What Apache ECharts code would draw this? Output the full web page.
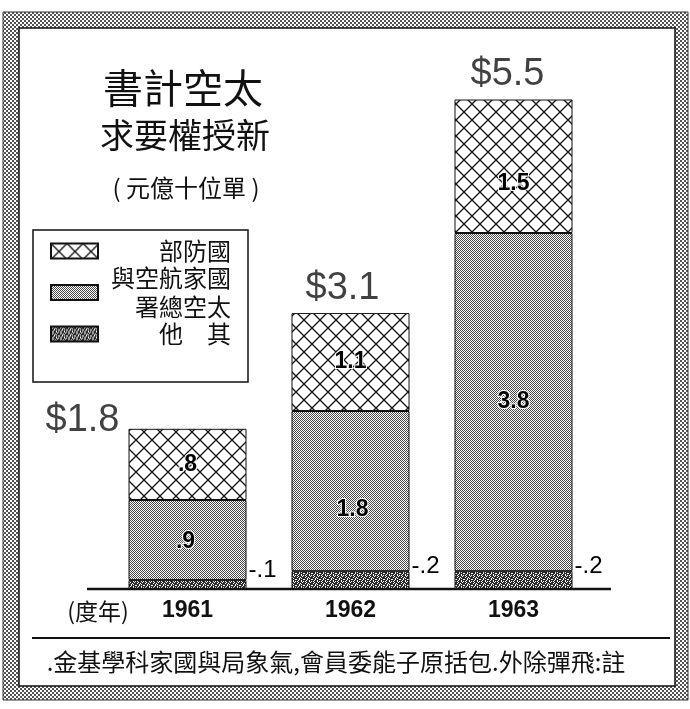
<!DOCTYPE html>
<html>
<head>
<meta charset="utf-8">
<script src="https://cdn.jsdelivr.net/npm/echarts@6/dist/echarts.min.js"></script>
<style>
  html, body { margin: 0; padding: 0; background: #fff; }
  #main { width: 690px; height: 709px; }
</style>
</head>
<body>
<div id="main"></div>
<script>
// 單位: 十億元
var years = ['1961', '1962', '1963'];
var defense = [0.8, 1.1, 1.5];   // 國防部
var nasa = [0.9, 1.8, 3.8];      // 國家航空與太空總署
var other = [0.1, 0.2, 0.2];     // 其他
var totals = years.map(function (y, i) {
    return Math.round((defense[i] + nasa[i] + other[i]) * 10) / 10;
});

var nameDefense = '部防國';
var nameNasa = '與空航家國\n署總空太';
var nameOther = '他　其';

// 標籤的位置微調
var totalOffsets = [[-105, 16], [-8, 0], [-6, 0]];
var defenseOffsets = [[0, 0], [0, 0], [0, 17]];
var nasaOffsets = [[-2, 2], [2, 19], [0, 0]];

function fmt(v) {
    return String(v).replace(/^0\./, '.');
}

function tile(w, h, draw) {
    var c = document.createElement('canvas');
    c.width = w;
    c.height = h;
    var ctx = c.getContext('2d');
    ctx.fillStyle = '#fff';
    ctx.fillRect(0, 0, w, h);
    draw(ctx);
    return { image: c, repeat: 'repeat' };
}

// 斜格紋
var hatch = tile(16, 16, function (ctx) {
    ctx.strokeStyle = '#111';
    ctx.lineWidth = 1.3;
    ctx.beginPath();
    ctx.moveTo(-1, -1); ctx.lineTo(17, 17);
    ctx.moveTo(17, -1); ctx.lineTo(-1, 17);
    ctx.stroke();
});
// 細點
var dots = tile(2, 2, function (ctx) {
    ctx.fillStyle = '#4a4a4a';
    ctx.fillRect(0, 0, 1, 1);
    ctx.fillRect(1, 1, 1, 1);
});
// 粗斑紋
var mottle = tile(8, 6, function (ctx) {
    var rows = ['##.###.#', '#.##.###', '###.#.##', '.##.###.', '##.##.##', '#.###.#.'];
    ctx.fillStyle = '#2e2e2e';
    rows.forEach(function (r, y) {
        for (var x = 0; x < r.length; x++) {
            if (r[x] === '#') ctx.fillRect(x, y, 1, 1);
        }
    });
});
// 外框
var frame = tile(4, 4, function (ctx) {
    ctx.fillStyle = '#555';
    ctx.fillRect(0, 0, 2, 2);
    ctx.fillRect(2, 2, 2, 2);
});

var labelFont = 'Liberation Sans';
var cjkFont = 'Noto Sans CJK TC';

function withOffsets(values, offsets) {
    return values.map(function (v, i) {
        return { value: v, label: { offset: offsets[i] } };
    });
}

var innerLabel = {
    show: true,
    position: 'inside',
    formatter: function (p) { return fmt(p.value); },
    fontSize: 23,
    fontWeight: 'bold',
    fontFamily: labelFont,
    color: '#000',
    textBorderColor: '#fff',
    textBorderWidth: 2
};

var myChart = echarts.init(document.getElementById('main'));
myChart.setOption({
    animation: false,
    backgroundColor: '#fff',
    grid: { left: 106, right: 95, top: 55, bottom: 120 },
    xAxis: {
        type: 'category',
        data: years,
        axisLine: { show: false },
        axisTick: { show: false },
        axisLabel: {
            margin: 10,
            color: '#111',
            fontSize: 23,
            fontWeight: 'bold',
            fontFamily: labelFont
        }
    },
    yAxis: {
        type: 'value',
        min: 0,
        max: 6,
        show: false,
        splitLine: { show: false }
    },
    legend: {
        data: [nameDefense, nameNasa, nameOther],
        orient: 'vertical',
        left: 33,
        top: 230,
        padding: [9, 17, 36, 17],
        borderColor: '#111',
        borderWidth: 1.5,
        backgroundColor: '#fff',
        icon: 'rect',
        itemWidth: 47,
        itemHeight: 15,
        itemGap: 3,
        selectedMode: false,
        formatter: function (name) {
            return name.split('\n').map(function (s) { return '{t|' + s + '}'; }).join('\n');
        },
        textStyle: {
            rich: {
                t: {
                    width: 128,
                    align: 'right',
                    fontSize: 24,
                    lineHeight: 29,
                    color: '#111',
                    fontFamily: cjkFont
                }
            }
        }
    },
    graphic: [
        {
            type: 'rect', z: -10,
            shape: { x: 3, y: 12, width: 685, height: 688 },
            style: { fill: frame, stroke: '#333', lineWidth: 1 }
        },
        {
            type: 'rect', z: -9,
            shape: { x: 19, y: 28, width: 656, height: 658 },
            style: { fill: '#fff', stroke: '#111', lineWidth: 1.5 }
        },
        {
            type: 'line', z: 5,
            shape: { x1: 87, y1: 589, x2: 611, y2: 589 },
            style: { stroke: '#111', lineWidth: 2.5 }
        },
        {
            type: 'line', z: 5,
            shape: { x1: 32, y1: 638, x2: 670, y2: 638 },
            style: { stroke: '#111', lineWidth: 2 }
        },
        {
            type: 'text', x: 183, y: 88,
            style: { text: '書計空太', font: '40px "' + cjkFont + '"', fill: '#111',
                     align: 'center', verticalAlign: 'middle', textAlign: 'center', textVerticalAlign: 'middle' }
        },
        {
            type: 'text', x: 185, y: 135,
            style: { text: '求要權授新', font: '34px "' + cjkFont + '"', fill: '#111',
                     align: 'center', verticalAlign: 'middle', textAlign: 'center', textVerticalAlign: 'middle' }
        },
        {
            type: 'text', x: 186, y: 188,
            style: { text: '( 元億十位單 )', font: '24px "' + cjkFont + '"', fill: '#111',
                     align: 'center', verticalAlign: 'middle', textAlign: 'center', textVerticalAlign: 'middle' }
        },
        {
            type: 'text', x: 98, y: 611,
            style: { text: '(度年)', font: '23px "' + cjkFont + '"', fill: '#111',
                     align: 'center', verticalAlign: 'middle', textAlign: 'center', textVerticalAlign: 'middle' }
        },
        {
            type: 'text', x: 336, y: 662,
            style: { text: '.金基學科家國與局象氣,會員委能子原括包.外除彈飛:註', font: '24px "' + cjkFont + '"', fill: '#111',
                     align: 'center', verticalAlign: 'middle', textAlign: 'center', textVerticalAlign: 'middle' }
        }
    ],
    series: [
        {
            name: nameOther,
            type: 'bar',
            stack: 'total',
            barWidth: 118,
            data: other,
            itemStyle: { color: mottle, borderColor: '#111', borderWidth: 1 },
            label: {
                show: true,
                position: 'right',
                distance: 2,
                offset: [0, -14],
                formatter: function (p) { return '-' + fmt(p.value); },
                fontSize: 24,
                fontFamily: labelFont,
                color: '#000'
            }
        },
        {
            name: nameNasa,
            type: 'bar',
            stack: 'total',
            barWidth: 118,
            data: withOffsets(nasa, nasaOffsets),
            itemStyle: { color: dots, borderColor: '#111', borderWidth: 1 },
            label: innerLabel
        },
        {
            name: nameDefense,
            type: 'bar',
            stack: 'total',
            barWidth: 118,
            data: withOffsets(defense, defenseOffsets),
            itemStyle: { color: hatch, borderColor: '#111', borderWidth: 1 },
            label: innerLabel
        },
        {
            name: 'total',
            type: 'scatter',
            symbolSize: 1,
            itemStyle: { color: 'rgba(0,0,0,0)' },
            z: 10,
            data: totals.map(function (v, i) {
                return { value: [i, v], label: { offset: totalOffsets[i] } };
            }),
            label: {
                show: true,
                position: 'top',
                distance: 5,
                formatter: function (p) { return '$' + p.value[1]; },
                fontSize: 38,
                fontFamily: labelFont,
                color: '#111'
            }
        }
    ]
});
</script>
</body>
</html>
